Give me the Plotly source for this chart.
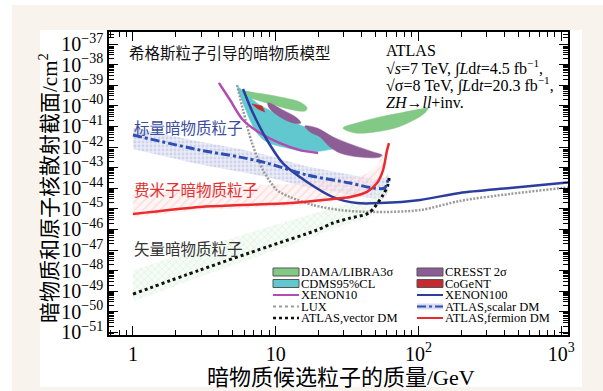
import plotly.graph_objects as go

LATIN = "Liberation Serif"
MIXED = "Liberation Serif, Noto Sans CJK SC"

# ---------------- axis ticks ----------------
x_tick_vals = [1, 10, 100, 1000]
x_tick_text = ["1", "10", "10<sup>2</sup>", "10<sup>3</sup>"]
y_tick_exps = list(range(-37, -52, -1))

# ---------------- experimental regions (mass in GeV, log10 of cross-section in cm^2) ----------------
dama_low_mass = [5.62, 7.39, 10.7, 14.8, 16.6, 16.1, 13.2, 9.6, 7.39, 6.1, 5.62]
dama_low_lxs = [-39.28, -39.38, -39.57, -39.82, -40.11, -40.25, -40.20, -39.96, -39.72, -39.52, -39.28]
dama_high_mass = [29.6, 39.0, 53.8, 74.3, 103, 117, 111, 87.3, 68.6, 49.7, 36.0, 29.6]
dama_high_lxs = [-41.08, -40.79, -40.54, -40.35, -40.16, -40.11, -40.35, -40.79, -41.08, -41.27, -41.32, -41.08]

cdms_mass = [5.44, 6.3, 7.76, 10.7, 14.8, 20.4, 26.0, 26.9, 22.9, 16.6, 12.0, 8.69, 7.39, 6.6, 5.9, 5.44, 5.44]
cdms_lxs = [-39.09, -39.48, -39.96, -40.45, -40.93, -41.32, -41.76, -42.0, -42.15, -42.24, -42.05, -41.76,
            -41.32, -40.69, -39.86, -39.23, -39.09]

cresst_a_mass = [8.83, 11.2, 14.1, 15.0, 13.2, 10.7, 9.0, 8.83]
cresst_a_lxs = [-39.86, -40.20, -40.59, -40.83, -40.83, -40.54, -40.11, -39.86]
cresst_b_mass = [16.0, 19.5, 25.2, 34.7, 48.1, 55.5, 53.8, 39.0, 28.2, 24.0, 20.4, 17.4, 16.0]
cresst_b_lxs = [-40.98, -41.08, -41.51, -41.90, -42.24, -42.39, -42.49, -42.49, -42.29, -42.0, -41.51, -41.27, -40.98]

cogent_mass = [6.82, 8.02, 8.4, 7.5, 6.82]
cogent_lxs = [-39.91, -40.01, -40.30, -40.16, -39.91]

# ---------------- direct-detection limits ----------------
xenon10_mass = [4.0, 4.79, 5.9, 7.76, 10.7, 14.8, 19.8]
xenon10_lxs = [-38.89, -39.72, -40.69, -41.32, -41.81, -42.15, -42.29]

xenon100_mass = [5.9, 6.93, 8.69, 11.2, 16.6, 25.2, 37.1, 53.8, 103, 195, 439, 1014, 1120]
xenon100_lxs = [-39.18, -40.35, -41.66, -42.78, -43.70, -44.43, -44.72, -44.72, -44.57, -44.23, -43.99, -43.75, -43.72]

lux_mass = [5.36, 5.9, 6.82, 8.15, 10.2, 12.6, 18.3, 28.2, 48.1, 103, 195, 439, 1014, 1120]
lux_lxs = [-38.99, -40.20, -41.81, -43.12, -44.09, -44.43, -44.82, -45.06, -45.16, -45.06, -44.62, -44.28, -43.99, -43.96]

# ---------------- ATLAS Higgs-portal limits ----------------
scalar_mass = [1, 2.95, 5.62, 8.69, 16.6, 33.2, 48.1, 58, 61.1]
scalar_lxs = [-41.42, -42.15, -42.49, -42.78, -43.36, -43.75, -43.99, -43.99, -43.60]
scalar_band_hi = [-41.05, -41.75, -42.1, -42.4, -42.95, -43.35, -43.55, -43.5, -43.3]
scalar_band_lo = [-42.1, -42.85, -43.2, -43.45, -43.95, -44.3, -44.5, -44.5, -44.2]

fermion_mass = [1, 2.95, 5.62, 12.6, 21.4, 33.2, 43.6, 51.3, 56.5, 60.3, 62.2]
fermion_lxs = [-45.25, -44.91, -44.82, -44.72, -44.57, -44.43, -44.18, -43.75, -43.12, -42.15, -41.81]
fermion_band_mass = [1, 2.95, 5.62, 12.6, 21.4, 33.2, 43.6, 51.3, 56.5]
fermion_band_hi = [-44.3, -44.0, -43.9, -43.8, -43.65, -43.5, -43.3, -42.9, -42.3]
fermion_band_lo = [-45.4, -45.05, -44.97, -44.87, -44.72, -44.58, -44.33, -43.9, -43.27]

vector_mass = [1, 2.95, 8.69, 19.5, 25.2, 33.2, 45, 56.5, 61.1, 62.5]
vector_lxs = [-49.14, -47.97, -46.85, -46.03, -45.69, -45.45, -45.2, -44.33, -43.84, -43.46]
vector_band_hi = [-48.0, -46.9, -45.9, -45.2, -44.95, -44.75, -44.55, -43.8, -43.4, -43.1]
vector_band_lo = [-49.5, -48.3, -47.15, -46.3, -45.95, -45.7, -45.45, -44.6, -44.1, -43.7]

# ---------------- legend entries ----------------
legend_left = ["DAMA/LIBRA3σ", "CDMS95%CL", "XENON10", "LUX", "ATLAS,vector DM"]
legend_right = ["CRESST 2σ", "CoGeNT", "XENON100", "ATLAS,scalar DM", "ATLAS,fermion DM"]

C_DAMA = "#82c985"
C_CDMS = "#62c8d0"
C_CRESST = "#8c5e95"
C_COGENT = "#c42a2f"
C_XE10 = "#b24cb3"
C_XE100 = "#2b3e9e"
C_LUX = "#9a9a9a"
C_SCALAR = "#2d4fb4"
C_FERMION = "#ea2a2c"
C_VECTOR = "#111111"


def ex(vals):
    return [10 ** v for v in vals]


fig = go.Figure()


def band(mass, hi, lo, fill, pattern):
    fig.add_trace(go.Scatter(
        x=list(mass) + list(mass)[::-1], y=ex(list(hi) + list(lo)[::-1]),
        mode="lines", line=dict(width=0), fill="toself", fillcolor=fill,
        fillpattern=pattern, hoverinfo="skip", showlegend=False))


band(scalar_mass, scalar_band_hi, scalar_band_lo, "rgba(215,218,240,0.55)",
     dict(shape=".", fgcolor="rgba(150,155,210,0.6)", size=4, solidity=0.4))
band(fermion_band_mass, fermion_band_hi, fermion_band_lo, "rgba(255,235,235,0.5)",
     dict(shape="/", fgcolor="rgba(240,170,170,0.6)", size=6, solidity=0.3))
band(vector_mass, vector_band_hi, vector_band_lo, "rgba(235,248,235,0.5)",
     dict(shape="x", fgcolor="rgba(170,215,170,0.5)", size=5, solidity=0.3))


def region(mass, lxs, color, shape="spline"):
    fig.add_trace(go.Scatter(
        x=mass, y=ex(lxs), mode="lines", line=dict(color=color, width=0.5, shape=shape),
        fill="toself", fillcolor=color, hoverinfo="skip", showlegend=False))


region(dama_low_mass, dama_low_lxs, C_DAMA)
region(dama_high_mass, dama_high_lxs, C_DAMA)
region(cdms_mass, cdms_lxs, C_CDMS)
region(cresst_a_mass, cresst_a_lxs, C_CRESST)
region(cresst_b_mass, cresst_b_lxs, C_CRESST)
region(cogent_mass, cogent_lxs, C_COGENT, shape="linear")


def limit(mass, lxs, color, width, dash="solid"):
    fig.add_trace(go.Scatter(
        x=mass, y=ex(lxs), mode="lines",
        line=dict(color=color, width=width, dash=dash, shape="spline", smoothing=0.8),
        hoverinfo="skip", showlegend=False))


limit(lux_mass, lux_lxs, C_LUX, 2.5, "2px,1.5px")
limit(xenon10_mass, xenon10_lxs, C_XE10, 2.5)
limit(xenon100_mass, xenon100_lxs, C_XE100, 2.5)
limit(vector_mass, vector_lxs, C_VECTOR, 3, "3px,3px")
limit(scalar_mass, scalar_lxs, C_SCALAR, 3, "9px,3px,3px,3px")
limit(fermion_mass, fermion_lxs, C_FERMION, 2.5)

# ---------------- page layout helpers (pixel -> paper) ----------------
W, H = 603, 391
L, R, T, B = 109, 568, 32, 335


def px(X):
    return (X - L) / (R - L)


def py(Y):
    return (B - Y) / (B - T)


shapes = [
    dict(type="rect", xref="paper", yref="paper", x0=px(12), x1=px(603), y0=py(391), y1=py(5),
         fillcolor="#f8f4ed", line=dict(width=0), layer="below"),
    dict(type="rect", xref="paper", yref="paper", x0=px(40), x1=px(582), y0=py(387), y1=py(30),
         fillcolor="white", line=dict(width=0), layer="below"),
]
annotations = []

# custom two-column legend
row_y = [272, 283.5, 295, 306.5, 318]
left_style = [("fill", C_DAMA, None), ("fill", C_CDMS, None), ("line", C_XE10, "solid"),
              ("line", C_LUX, "dot"), ("line", C_VECTOR, "dash")]
right_style = [("fill", C_CRESST, None), ("fill", C_COGENT, None), ("line", C_XE100, "solid"),
               ("scalar", C_SCALAR, "dashdot"), ("line", C_FERMION, "solid")]
for col_x0, labels, styles in [(273, legend_left, left_style), (417, legend_right, right_style)]:
    for yy, lab, (kind, col, dash) in zip(row_y, labels, styles):
        if kind == "fill":
            shapes.append(dict(type="rect", xref="paper", yref="paper",
                               x0=px(col_x0), x1=px(col_x0 + 26), y0=py(yy + 4), y1=py(yy - 4),
                               fillcolor=col, line=dict(color="#555555", width=1)))
        else:
            if kind == "scalar":
                shapes.append(dict(type="rect", xref="paper", yref="paper",
                                   x0=px(col_x0), x1=px(col_x0 + 26), y0=py(yy + 3), y1=py(yy - 3),
                                   fillcolor="rgba(205,210,240,0.8)", line=dict(width=0)))
            lw = {"dot": 2, "dash": 2.5}.get(dash, 2)
            dsh = {"dot": "dot", "dash": "dot", "dashdot": "dashdot"}.get(dash, "solid")
            shapes.append(dict(type="line", xref="paper", yref="paper",
                               x0=px(col_x0), x1=px(col_x0 + 26), y0=py(yy), y1=py(yy),
                               line=dict(color=col, width=lw, dash=dsh)))
        annotations.append(dict(xref="paper", yref="paper", x=px(col_x0 + 27), y=py(yy),
                                xanchor="left", yanchor="middle", text=lab, showarrow=False,
                                borderpad=0,
                                font=dict(family=LATIN, size=12.5, color="black")))

# in-plot text
cn_notes = [
    ("希格斯粒子引导的暗物质模型", 127, 52, "#111111"),
    ("标量暗物质粒子", 132, 127, "#3b4d9d"),
    ("费米子暗物质粒子", 132, 189, "#e2302e"),
    ("矢量暗物质粒子", 132, 248, "#333333"),
]
for txt, X, Y, col in cn_notes:
    annotations.append(dict(xref="paper", yref="paper", x=px(X), y=py(Y), xanchor="left",
                            yanchor="middle", text=txt, showarrow=False,
                            font=dict(family="Noto Sans CJK SC", size=15.5, color=col)))

atlas_lines = [
    ("ATLAS", 50),
    ("√<i>s</i>=7 TeV, ∫<i>L</i>d<i>t</i>=4.5 fb<sup>−1</sup>,", 67.5),
    ("√σ=8 TeV, ∫<i>L</i>d<i>t</i>=20.3 fb<sup>−1</sup>,", 85),
    ("<i>ZH</i>→<i>ll</i>+inv.", 103),
]
for txt, Y in atlas_lines:
    annotations.append(dict(xref="paper", yref="paper", x=px(385), y=py(Y), xanchor="left",
                            yanchor="middle", text=txt, showarrow=False, borderpad=0,
                            font=dict(family=LATIN, size=16, color="black")))

# axis titles
annotations.append(dict(xref="paper", yref="paper", x=px(341), y=py(377), xanchor="center",
                        yanchor="middle", text="暗物质候选粒子的质量/GeV", showarrow=False,
                        font=dict(family=MIXED, size=22, color="black")))
annotations.append(dict(xref="paper", yref="paper", x=px(48), y=py(188), xanchor="center",
                        yanchor="middle", text="暗物质和原子核散射截面/cm<sup>2</sup>", textangle=-90,
                        showarrow=False, font=dict(family=MIXED, size=21, color="black")))

axis_common = dict(
    type="log", showgrid=False, zeroline=False, showline=True, linecolor="black", linewidth=1.5,
    mirror="ticks", ticks="inside", ticklen=9, tickwidth=1.3, tickcolor="black",
    tickfont=dict(family=LATIN, size=20, color="black"), tickmode="array",
    minor=dict(ticks="inside", ticklen=5, tickwidth=1, tickcolor="black", dtick="D1", showgrid=False),
)

fig.update_layout(
    width=W, height=H,
    margin=dict(l=L, r=W - R, t=T, b=H - B, pad=0),
    paper_bgcolor="white", plot_bgcolor="rgba(0,0,0,0)",
    showlegend=False,
    xaxis=dict(axis_common, range=[-0.168, 3.048], tickvals=x_tick_vals, ticktext=x_tick_text),
    yaxis=dict(axis_common, range=[-51.126, -36.417],
               tickvals=[10 ** e for e in y_tick_exps],
               ticktext=[f"10<sup>−{-e}</sup>" for e in y_tick_exps]),
    shapes=shapes, annotations=annotations,
)

fig.write_html("out.html")
